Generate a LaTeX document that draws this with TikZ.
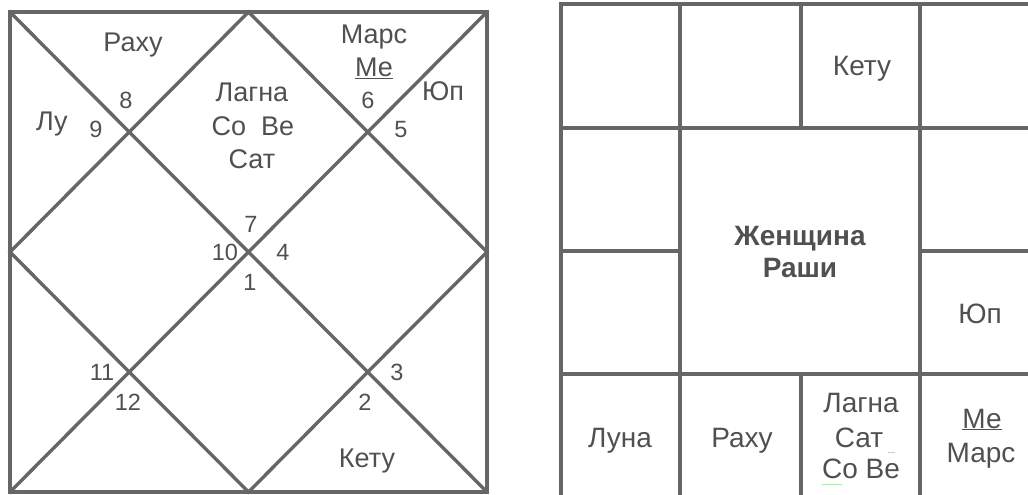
\documentclass[tikz,border=0pt]{standalone}
\usepackage{fontspec}
\setmainfont{Liberation Sans}
\definecolor{K01grey}{HTML}{666666}
\definecolor{K01ink}{HTML}{505050}
\tikzset{K01line/.style={draw=K01grey,line width=3.4pt},
         K01lab/.style={text=K01ink,font=\fontsize{27}{30}\selectfont,anchor=base,inner sep=0pt},
         K01num/.style={text=K01ink,font=\fontsize{23.5}{26}\selectfont,anchor=base,inner sep=0pt},
         K01big/.style={text=K01ink,font=\fontsize{28}{32}\selectfont,anchor=base,inner sep=0pt}}

\begin{document}
\begin{tikzpicture}[x=1pt,y=-1pt]
    \useasboundingbox (0,0) rectangle (1028,495);
    \clip (0,0) rectangle (1028,495);
    % north indian chart
    \coordinate (nw) at (10,12);   \coordinate (ne) at (487,12);
    \coordinate (sw) at (10,492);  \coordinate (se) at (487,492);
    \coordinate (nm) at (248.5,12); \coordinate (sm) at (248.5,492);
    \coordinate (wm) at (10,252);  \coordinate (em) at (487,252);
    \draw[K01line] (nw) rectangle (se);
    \draw[K01line] (nw)--(se) (ne)--(sw);
    \draw[K01line] (nm)--(wm)--(sm)--(em)--cycle;
    \foreach \x/\y/\t/\n in {126/108/8/h8,96/137/9/h9,368/108/6/h6,401/137/5/h5,
                             251/232/7/h7,225/260/10/h10,283/260/4/h4,250/290/1/h1,
                             102/380/11/h11,128/410/12/h12,397/380/3/h3,365/410/2/h2}
      {\node[K01num] (\n) at (\x,\y) {\t};}
    \foreach \x/\y/\t/\n in {133/52/Раху/ra,374/44/Марс/ma,374/77/{\underline{Ме}}/me,
                             443/100/Юп/ju,52/130/Лу/mo,252/101/Лагна/la,
                             253/135/{Со\ \ Ве}/sv,252/168/Сат/sa,367/467/Кету/ke}
      {\node[K01lab] (\n) at (\x,\y) {\t};}
    % south indian chart
    \draw[K01line] (561,4) rectangle (1040,497);
    \draw[K01line] (561,128)--(1040,128) (561,374)--(1040,374);
    \draw[K01line] (680,4)--(680,497) (920,4)--(920,497);
    \draw[K01line] (561,251)--(680,251) (920,251)--(1040,251);
    \draw[K01line] (801,4)--(801,128) (801,374)--(801,497);
    \node[K01big,font=\fontsize{28}{32}\selectfont\bfseries] (zh) at (800,245) {Женщина};
    \node[K01big,font=\fontsize{28}{32}\selectfont\bfseries] (rs) at (800,277) {Раши};
    \foreach \x/\y/\t/\n in {862/75/Кету/rke,980/323/Юп/rju,620/447/Луна/rmo,742/447/Раху/rra,
                             861/412/Лагна/rla,859/447/Сат/rsa,861/478/{Со Ве}/rsv,
                             982/428/{\underline{Ме}}/rme,981/462/Марс/rma}
      {\node[K01big] (\n) at (\x,\y) {\t};}
    \draw[black!20,line width=1pt] (888,452)--(895,452);
    \draw[green!50!gray!40,line width=1pt] (822,484)--(842,484);
  \end{tikzpicture}
\end{document}
